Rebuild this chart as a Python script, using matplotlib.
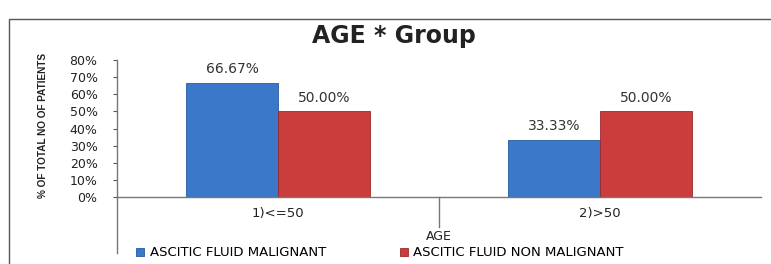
import numpy as np
import matplotlib.pyplot as plt
from matplotlib.patches import Rectangle
from matplotlib.ticker import PercentFormatter

categories = ['1)<=50', '2)>50']
malignant = [66.67, 33.33]
non_malignant = [50.00, 50.00]
series_names = ['ASCITIC FLUID MALIGNANT', 'ASCITIC FLUID NON MALIGNANT']

blue = '#3c78c9'
red = '#cb3d3d'

fig = plt.figure(figsize=(7.71, 2.64), dpi=100)
ax = fig.add_axes([117/771, 1-197/264, 644/771, 137/264])

x = np.arange(len(categories))
w = 0.286
b1 = ax.bar(x - w/2, malignant, w, color=blue, edgecolor='#2a5a9e', linewidth=0.6)
b2 = ax.bar(x + w/2, non_malignant, w, color=red, edgecolor='#9a2a2a', linewidth=0.6)

for bars, vals in [(b1, malignant), (b2, non_malignant)]:
    for bar, v in zip(bars, vals):
        ax.text(bar.get_x() + bar.get_width()/2, v + 4, '%.2f%%' % v,
                ha='center', va='bottom', fontsize=10, color='#333333')

ax.set_xlim(-0.5, 1.5)
ax.set_ylim(0, 80)
ax.set_yticks(np.arange(0, 81, 10))
ax.yaxis.set_major_formatter(PercentFormatter(decimals=0))
ax.tick_params(axis='y', labelsize=9, colors='#555555', length=3, width=0.8, pad=11)
ax.tick_params(axis='y', labelcolor='#222222')
ax.set_xticks(x)
ax.set_xticklabels(categories, fontsize=9.5, color='#222222')
ax.tick_params(axis='x', length=0, pad=7)

for s in ['top', 'right']:
    ax.spines[s].set_visible(False)
for s in ['left', 'bottom']:
    ax.spines[s].set_color('#777777')
    ax.spines[s].set_linewidth(1.0)

# category separators below the axis
ax.plot([-0.5, -0.5], [0, -0.41], transform=ax.get_xaxis_transform(),
        color='#777777', lw=1.0, clip_on=False)
ax.plot([0.5, 0.5], [0, -0.22], transform=ax.get_xaxis_transform(),
        color='#777777', lw=1.0, clip_on=False)

ax.text(0.5, -0.29, 'AGE', transform=ax.transAxes, ha='center', va='center',
        fontsize=9, color='#222222')

ax.set_ylabel('% OF TOTAL NO OF PATIENTS', fontsize=7.2, fontweight='bold',
              family=['Liberation Sans', 'DejaVu Sans'], color='#222222')
ax.yaxis.set_label_coords(-0.107, 0.52)

fig.text(394/771, 1-36/264, 'AGE * Group', ha='center', va='center',
         fontsize=17, fontweight='bold', color='#222222')

# outer frame
fig.patches.append(Rectangle((9/771, -0.1), 1.0, 1 - 19/264 + 0.1,
                             transform=fig.transFigure, fill=False,
                             edgecolor='#555555', lw=1.0))

leg = fig.legend([b1, b2], series_names, loc='center', ncol=2,
                 bbox_to_anchor=(380/771, 1-253/264), frameon=False,
                 fontsize=9.5, handlelength=0.6, handleheight=0.6,
                 handletextpad=0.4, columnspacing=5.6)

fig.savefig('out.png', dpi=100)
